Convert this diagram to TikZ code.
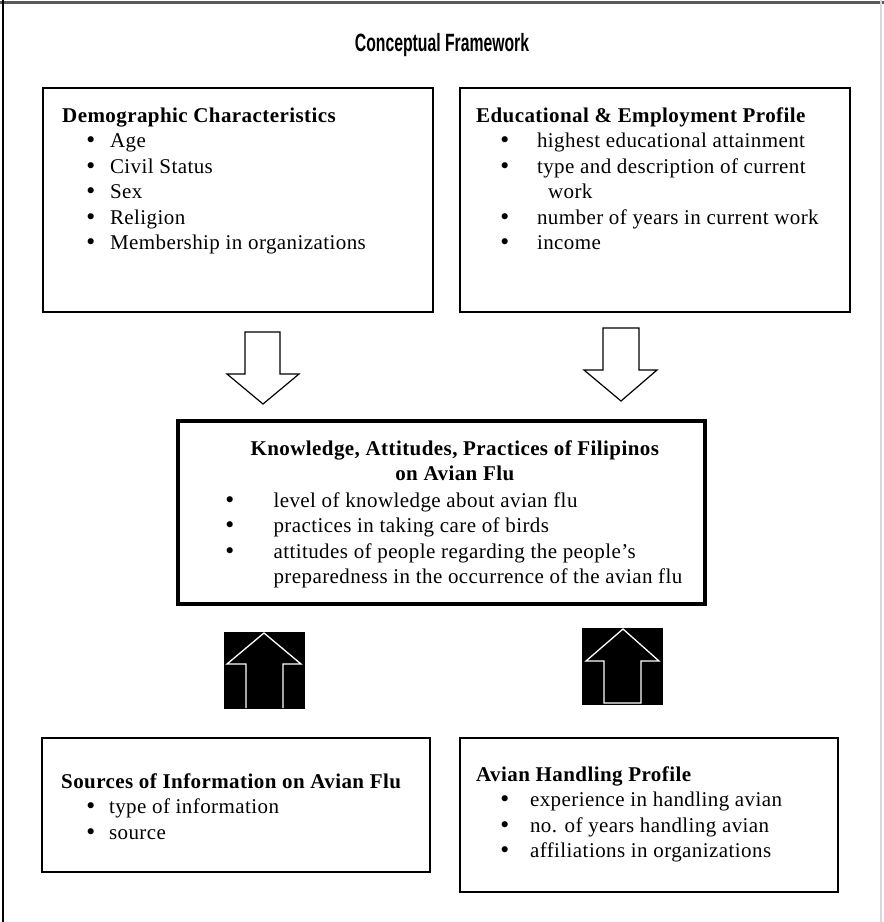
\documentclass[tikz,border=0pt]{standalone}
\usepackage{fontspec}
\setmainfont{Liberation Serif}[LetterSpace=2]
\newfontfamily\titlefont{Liberation Sans}
\newfontfamily\bulfont{DejaVu Sans}
\usetikzlibrary{positioning, calc}

\newcommand{\bul}{\makebox[7.35pt][c]{\bulfont •}}

\tikzset{
  panel/.style={draw, line width=2.5pt, inner sep=0pt},
  keypanel/.style={draw, line width=4pt, inner sep=0pt},
  listtext/.style={anchor=base west, inner sep=0pt, font=\fontsize{21}{25.5}\selectfont},
  hollowarrow/.style={draw, line width=1.2pt, fill=white, line join=miter},
  darkarrow/.style={draw=white, line width=1.3pt, fill=black, line join=miter}
}

\begin{document}
\begin{tikzpicture}[x=1pt, y=-1pt]
  \useasboundingbox (0,0) rectangle (884,922);
  % page frame
  \draw[black!65, line width=3pt] (0,2) -- (884,2);
  \draw[black, line width=1.4pt] (3,0) -- (3,922);
  \draw[black!15, line width=1.4pt] (881,0) -- (881,922);

  \node[font=\titlefont\bfseries\fontsize{25}{28}\selectfont] (title) at (442,45)
    {\scalebox{0.63}[1]{Conceptual Framework}};

  % boxes
  \node[panel, minimum width=390pt, minimum height=224pt] (demo) at (238,200) {};
  \node[panel, minimum width=390pt, minimum height=224pt] (edu) at (655,200) {};
  \node[keypanel, minimum width=527pt, minimum height=183pt] (kap) at (441.5,512.5) {};
  \node[panel, minimum width=388pt, minimum height=134pt] (src) at (236,805) {};
  \node[panel, minimum width=378pt, minimum height=154pt] (avi) at (649,815) {};

  % box texts
  \node[listtext] (demotxt) at (62,122) {%
    \begin{tabular}[t]{@{\hspace{25pt}}l@{\hspace{15.5pt}}l@{}}
      \multicolumn{2}{@{}l@{}}{\textbf{Demographic Characteristics}}\\
      \bul & Age\\
      \bul & Civil Status\\
      \bul & Sex\\
      \bul & Religion\\
      \bul & Membership in organizations
    \end{tabular}};
  \node[listtext] (edutxt) at (476,122) {%
    \begin{tabular}[t]{@{\hspace{25pt}}l@{\hspace{28.5pt}}l@{}}
      \multicolumn{2}{@{}l@{}}{\textbf{Educational \& Employment Profile}}\\
      \bul & highest educational attainment\\
      \bul & type and description of current\\
           & \hspace{11pt}work\\
      \bul & number of years in current work\\
      \bul & income
    \end{tabular}};
  \node[listtext, anchor=base] (kaphead) at (455,455) {%
    \begin{tabular}[t]{@{}c@{}}
      \textbf{Knowledge, Attitudes, Practices of Filipinos}\\
      \textbf{on Avian Flu}
    \end{tabular}};
  \node[listtext] (kaptxt) at (226,507) {%
    \begin{tabular}[t]{@{}l@{\hspace{40pt}}l@{}}
      \bul & level of knowledge about avian flu\\
      \bul & practices in taking care of birds\\
      \bul & attitudes of people regarding the people's\\
           & preparedness in the occurrence of the avian flu
    \end{tabular}};
  \node[listtext] (srctxt) at (61,788) {%
    \begin{tabular}[t]{@{\hspace{26pt}}l@{\hspace{14.5pt}}l@{}}
      \multicolumn{2}{@{}l@{}}{\textbf{Sources of Information on Avian Flu}}\\
      \bul & type of information\\
      \bul & source
    \end{tabular}};
  \node[listtext] (avitxt) at (476,781) {%
    \begin{tabular}[t]{@{\hspace{25pt}}l@{\hspace{21.5pt}}l@{}}
      \multicolumn{2}{@{}l@{}}{\textbf{Avian Handling Profile}}\\
      \bul & experience in handling avian\\
      \bul & no. of years handling avian\\
      \bul & affiliations in organizations
    \end{tabular}};

  % hollow arrows into the central box
  \draw[hollowarrow] (245,332) -- (280,332) -- (280,374) -- (299,374) -- (263,404)
    -- (227,374) -- (245,374) -- cycle;
  \draw[hollowarrow] (603,328) -- (639,328) -- (639,370) -- (657,370) -- (621,401)
    -- (584,370) -- (603,370) -- cycle;

  % dark arrows from the bottom boxes
  \fill[black] (224,632) rectangle (305,709);
  \draw[darkarrow] (246,708) -- (246,664) -- (227,664) -- (264,633) -- (301,664)
    -- (283,664) -- (283,708);
  \fill[black] (582,628) rectangle (663,705);
  \draw[darkarrow] (604,703) -- (604,661) -- (586,661) -- (623,629) -- (659,661)
    -- (641,661) -- (641,703) -- cycle;
\end{tikzpicture}
\end{document}
